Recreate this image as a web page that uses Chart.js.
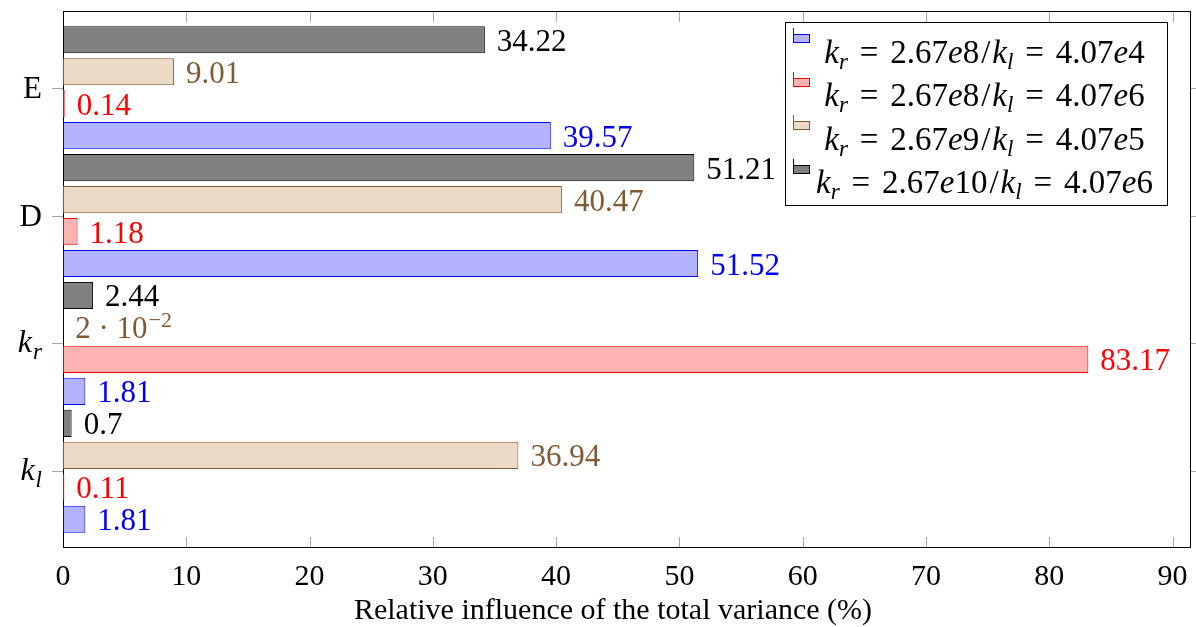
<!DOCTYPE html>
<html>
<head>
<meta charset="utf-8">
<script src="https://cdn.jsdelivr.net/npm/chart.js@4.4.1/dist/chart.umd.min.js"></script>
<style>
  html, body { margin: 0; padding: 0; background: #fff; }
  #wrap { position: relative; width: 1196px; height: 627px; }
  #legend {
    position: absolute; left: 785px; top: 22px; width: 381px; height: 182px;
    border: 1px solid #000; background: #fff;
    font-family: 'Liberation Serif', 'Times New Roman', serif; font-size: 33px; color: #000;
  }
  #legend .line { position: absolute; width: 1px; height: 14px; }
  #legend .box { position: absolute; width: 15px; height: 7px; border-width: 1px; border-style: solid; }
  #legend .txt { position: absolute; left: 14px; width: 369px; text-align: center; white-space: nowrap; line-height: 30px; }
  #legend sub { font-size: 70%; vertical-align: -0.28em; line-height: 0; font-style: italic; }
  #legend .eq { margin: 0 0.36em; }
  #legend .sl { margin: 0 0.06em; }
</style>
</head>
<body>
<div id="wrap">
  <canvas id="chart" width="1196" height="627"></canvas>
  <div id="legend"></div>
</div>
<script>
const SERIF = "'Liberation Serif', 'Times New Roman', serif";

// categories, bottom to top
const categories = ['k_l', 'k_r', 'D', 'E'];

// relative influence (%) for each parameter set
const seriesA = [1.81, 1.81, 51.52, 39.57];   // kr=2.67e8 / kl=4.07e4
const seriesB = [0.11, 83.17, 1.18, 0.14];    // kr=2.67e8 / kl=4.07e6
const seriesC = [36.94, 0.02, 40.47, 9.01];   // kr=2.67e9 / kl=4.07e5
const seriesD = [0.7, 2.44, 51.21, 34.22];    // kr=2.67e10 / kl=4.07e6

const krValues = ['2.67e8', '2.67e8', '2.67e9', '2.67e10'];
const klValues = ['4.07e4', '4.07e6', '4.07e5', '4.07e6'];

const xTicks = [0, 10, 20, 30, 40, 50, 60, 70, 80, 90];
const xTitle = 'Relative influence of the total variance (%)';

const series = [
  { values: seriesA, fill: '#b3b3ff', line: '#0000ff', text: '#0000ff' },
  { values: seriesB, fill: '#ffb3b3', line: '#ff0000', text: '#ff0000' },
  { values: seriesC, fill: '#ecdac6', line: '#805a33', text: '#805a33' },
  { values: seriesD, fill: '#808080', line: '#000000', text: '#000000' }
];

// top bar in each group is the last series, so feed them reversed
const datasets = series.slice().reverse().map(s => ({
  data: s.values.map((v, i) => ({ x: v, y: i })),
  backgroundColor: s.fill,
  borderColor: s.line,
  borderWidth: 1,
  borderSkipped: false,
  inflateAmount: 0,
  textColor: s.text
}));

function drawValue(ctx, v, x0, yb, color) {
  ctx.fillStyle = color;
  ctx.textAlign = 'left';
  ctx.textBaseline = 'alphabetic';
  ctx.font = '31px ' + SERIF;
  if (v >= 0.1) {
    ctx.fillText(String(v), x0, yb);
    return;
  }
  const e = Math.floor(Math.log10(v));
  const m = Math.round(v / Math.pow(10, e));
  const main = m + ' \u00b7 10';
  ctx.fillText(main, x0, yb);
  const w = ctx.measureText(main).width;
  ctx.font = '22px ' + SERIF;
  ctx.fillText('\u2212' + (-e), x0 + w + 1, yb - 11);
}

function drawCat(ctx, label, xr, yc) {
  const parts = label.split('_');
  ctx.fillStyle = '#000';
  ctx.textBaseline = 'alphabetic';
  if (parts.length === 1) {
    ctx.font = '31px ' + SERIF;
    ctx.textAlign = 'right';
    ctx.fillText(label, xr, yc + 10);
    return;
  }
  ctx.textAlign = 'left';
  ctx.font = 'italic 32px ' + SERIF;
  const wb = ctx.measureText(parts[0]).width;
  ctx.font = 'italic 23px ' + SERIF;
  const ws = ctx.measureText(parts[1]).width;
  ctx.font = 'italic 32px ' + SERIF;
  ctx.fillText(parts[0], xr - ws - wb - 1, yc + 9);
  ctx.font = 'italic 23px ' + SERIF;
  ctx.fillText(parts[1], xr - ws, yc + 16);
}

const decor = {
  id: 'decor',
  beforeDatasetsDraw(chart) {
    // frame and inner ticks go under the bars
    const { ctx, chartArea: a, scales: { x } } = chart;
    ctx.save();
    ctx.strokeStyle = '#a6a6a6';
    ctx.lineWidth = 1;
    ctx.beginPath();
    xTicks.forEach(t => {
      const px = Math.round(x.getPixelForValue(t)) + 0.5;
      ctx.moveTo(px, a.bottom); ctx.lineTo(px, a.bottom - 11);
      ctx.moveTo(px, a.top); ctx.lineTo(px, a.top + 11);
    });
    ctx.stroke();
    ctx.strokeStyle = '#000';
    ctx.strokeRect(a.left + 0.5, a.top + 0.5, a.right - a.left - 1, a.bottom - a.top - 1);
    ctx.restore();
  },
  afterDatasetsDraw(chart) {
    const ctx = chart.ctx;
    ctx.save();
    chart.data.datasets.forEach((ds, i) => {
      chart.getDatasetMeta(i).data.forEach((bar, j) => {
        drawValue(ctx, ds.data[j].x, bar.x + 12, bar.y + 11, ds.textColor);
      });
    });
    ctx.restore();
  },
  afterDraw(chart) {
    const { ctx, chartArea: a, scales: { y } } = chart;
    ctx.save();
    ctx.strokeStyle = '#a6a6a6';
    ctx.lineWidth = 1;
    ctx.beginPath();
    categories.forEach((c, i) => {
      const py = Math.round(y.getPixelForValue(i)) + 0.5;
      ctx.moveTo(a.left - 11, py); ctx.lineTo(a.left, py);
      ctx.moveTo(a.right, py); ctx.lineTo(a.right + 11, py);
    });
    ctx.stroke();
    categories.forEach((c, i) => drawCat(ctx, c, 42, y.getPixelForValue(i)));
    // axis title
    ctx.fillStyle = '#000';
    ctx.font = '30px ' + SERIF;
    ctx.textAlign = 'center';
    ctx.textBaseline = 'alphabetic';
    ctx.fillText(xTitle, 613, 619);
    ctx.restore();
  }
};

new Chart(document.getElementById('chart'), {
  type: 'bar',
  data: { datasets },
  options: {
    indexAxis: 'y',
    responsive: false,
    animation: false,
    devicePixelRatio: 1,
    layout: { padding: { top: 11, right: 5, left: 0, bottom: 0 } },
    datasets: { bar: { categoryPercentage: 1, barPercentage: 0.85 } },
    plugins: { legend: { display: false }, tooltip: { enabled: false } },
    scales: {
      x: {
        type: 'linear', min: 0, max: 91.5, position: 'bottom',
        grid: { display: false }, border: { display: false },
        ticks: { padding: 3, color: '#000', font: { family: SERIF, size: 30 } },
        afterBuildTicks: s => { s.ticks = xTicks.map(v => ({ value: v })); },
        afterFit: s => { s.height = 79; }
      },
      y: {
        type: 'linear', min: -0.6, max: 3.6, offset: false,
        grid: { display: false, offset: false }, border: { display: false },
        ticks: { display: false },
        afterBuildTicks: s => { s.ticks = categories.map((c, i) => ({ value: i })); },
        afterFit: s => { s.width = 63; }
      }
    }
  },
  plugins: [decor]
});

// legend, same order as the series
const legend = document.getElementById('legend');
const sci = s => s.replace('e', '<i>e</i>');
series.forEach((s, i) => {
  const top = 5 + i * 43.5;
  const line = document.createElement('div');
  line.className = 'line';
  line.style.cssText = `left:7px;top:${top}px;background:${s.line}`;
  const box = document.createElement('div');
  box.className = 'box';
  box.style.cssText = `left:7px;top:${top + 6}px;background:${s.fill};border-color:${s.line}`;
  const txt = document.createElement('div');
  txt.className = 'txt';
  txt.style.top = (14 + i * 43.3) + 'px';
  txt.innerHTML = `<i>k</i><sub>r</sub><span class="eq">=</span>${sci(krValues[i])}<span class="sl">/</span><i>k</i><sub>l</sub><span class="eq">=</span>${sci(klValues[i])}`;
  legend.append(line, box, txt);
});
</script>
</body>
</html>
